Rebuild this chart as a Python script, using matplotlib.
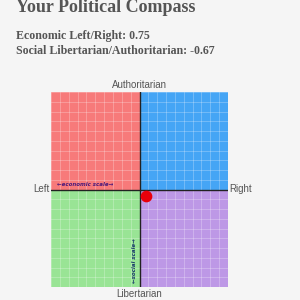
import matplotlib.pyplot as plt
from matplotlib.patches import Rectangle

# Scores
economic = 0.75
social = -0.67

# Quadrants: (x0, y0, colour)
quad_x = [-10, 0, -10, 0]
quad_y = [0, 0, -10, -10]
quad_colors = ['#f77a7a', '#45a5f5', '#99e495', '#bd98e6']

ticks = list(range(-10, 11))

fig = plt.figure(figsize=(3, 3), dpi=100)
fig.patch.set_facecolor('#f5f5f5')

# title and scores
fig.text(16 / 300, 1 - 8 / 300, "Your Political Compass", fontsize=13,
         fontweight='bold', family='Liberation Serif', color='#555555', va='center')
fig.text(16 / 300, 1 - 36 / 300, f"Economic Left/Right: {economic:.2f}", fontsize=8.6,
         fontweight='bold', family='Liberation Serif', color='#555555', va='center')
fig.text(16 / 300, 1 - 51 / 300, f"Social Libertarian/Authoritarian: {social:.2f}",
         fontsize=8.6, fontweight='bold', family='Liberation Serif', color='#555555',
         va='center')

ax = fig.add_axes([51 / 300, 13 / 300, 177 / 300, 195 / 300])
for x0, y0, c in zip(quad_x, quad_y, quad_colors):
    ax.add_patch(Rectangle((x0, y0), 10, 10, facecolor=c, edgecolor='none'))

for t in ticks:
    ax.axvline(t, color='white', lw=0.5, alpha=0.35)
    ax.axhline(t, color='white', lw=0.5, alpha=0.35)
ax.axhline(0, color='#222222', lw=1)
ax.axvline(0, color='#222222', lw=1)

ax.scatter([economic], [social], s=55, color='#e8000b', zorder=5)

ax.set_xlim(-10, 10)
ax.set_ylim(-10, 10)
ax.axis('off')

lab = dict(family='Liberation Sans', color='#555555', fontsize=7)
ax.text(0.5, 1.012, "Authoritarian", transform=ax.transAxes, ha='center', va='bottom', **lab)
ax.text(0.5, -0.012, "Libertarian", transform=ax.transAxes, ha='center', va='top', **lab)
ax.text(-0.01, 0.5, "Left", transform=ax.transAxes, ha='right', va='center', **lab)
ax.text(1.005, 0.5, "Right", transform=ax.transAxes, ha='left', va='center', **lab)

ax.text(-9.3, 0.25, "\u2190economic scale\u2192", fontsize=4, style='italic',
        fontweight='bold', color='#4a1a7a', ha='left', va='bottom')
ax.text(-0.25, -9.6, "\u2190social scale\u2192", fontsize=4, style='italic',
        fontweight='bold', color='#1a3a6a', rotation=90, ha='right', va='bottom')

fig.savefig("out.png", dpi=100, facecolor=fig.get_facecolor())
